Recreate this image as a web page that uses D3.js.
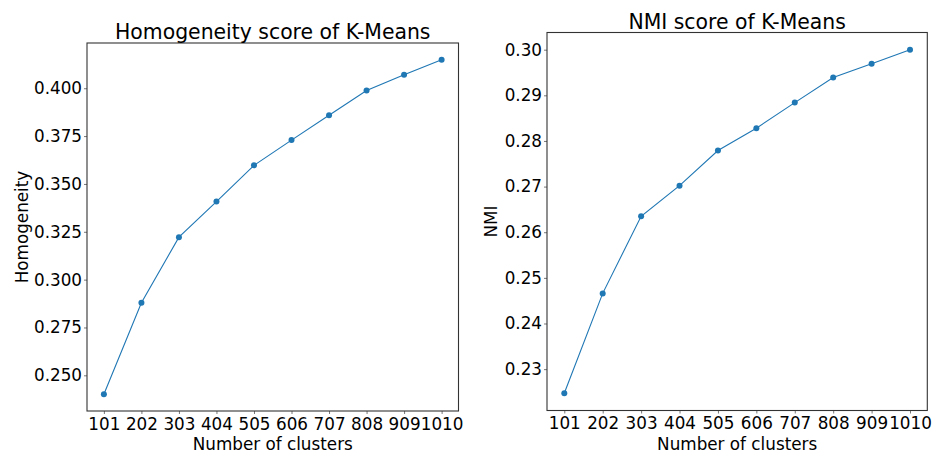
<!DOCTYPE html>
<html>
<head>
<meta charset="utf-8">
<script src="https://cdn.jsdelivr.net/npm/d3@7"></script>
<style>
  html, body { margin: 0; padding: 0; background: #fff; }
  svg { display: block; font-family: "DejaVu Sans", sans-serif; }
</style>
</head>
<body>
<svg id="chart" width="933" height="452"></svg>
<script>
// Cluster counts as labelled on the x axis
const clusterLabels = ["101", "202", "303", "404", "505", "606", "707", "808", "909", "1010"];

// Homogeneity score for each cluster setting
const homogeneityValues = [0.2401, 0.2879, 0.3222, 0.3408, 0.3597, 0.3729, 0.3859, 0.3988, 0.4071, 0.4149];
const homogeneityTicks = [0.250, 0.275, 0.300, 0.325, 0.350, 0.375, 0.400];

// NMI score for each cluster setting
const nmiValues = [0.2247, 0.2466, 0.2635, 0.2702, 0.2779, 0.2828, 0.2884, 0.2939, 0.2969, 0.3000];
const nmiTicks = [0.23, 0.24, 0.25, 0.26, 0.27, 0.28, 0.29, 0.30];

const svg = d3.select("#chart");
const color = "#1f77b4";

function panel(cfg) {
  const { box, values, ticks, fmt, title, ylabel, titleY, ylabelX } = cfg;

  const x = d3.scalePoint()
    .domain(clusterLabels)
    .range([box.left, box.right])
    .padding(0.45);

  const [lo, hi] = d3.extent(values);
  const m = (hi - lo) * 0.05;
  const y = d3.scaleLinear()
    .domain([lo - m, hi + m])
    .range([box.bottom, box.top]);

  const g = svg.append("g");

  // y axis
  const ya = g.append("g")
    .attr("transform", `translate(${box.left},0)`)
    .call(d3.axisLeft(y).tickValues(ticks).tickFormat(d3.format(fmt)).tickSize(3).tickPadding(2));
  ya.select(".domain").remove();
  ya.selectAll("text").attr("font-size", 16.8).attr("fill", "#000").attr("font-family", "DejaVu Sans");
  ya.selectAll("line").attr("stroke", "#555").attr("stroke-width", 0.8);

  // x axis
  const xa = g.append("g")
    .attr("transform", `translate(0,${box.bottom})`)
    .call(d3.axisBottom(x).tickSize(3).tickPadding(4));
  xa.select(".domain").remove();
  xa.selectAll("text").attr("font-size", 16.8).attr("fill", "#000").attr("font-family", "DejaVu Sans");
  xa.selectAll("line").attr("stroke", "#555").attr("stroke-width", 0.8);

  // frame
  g.append("rect")
    .attr("x", box.left).attr("y", box.top)
    .attr("width", box.right - box.left).attr("height", box.bottom - box.top)
    .attr("fill", "none").attr("stroke", "#333").attr("stroke-width", 1.1);

  // series line and markers
  const line = d3.line()
    .x((d, i) => x(clusterLabels[i]))
    .y(d => y(d));
  g.append("path")
    .datum(values)
    .attr("d", line)
    .attr("fill", "none")
    .attr("stroke", color)
    .attr("stroke-width", 1.1);
  g.selectAll("circle.pt")
    .data(values)
    .join("circle")
    .attr("class", "pt")
    .attr("cx", (d, i) => x(clusterLabels[i]))
    .attr("cy", d => y(d))
    .attr("r", 3)
    .attr("fill", color);

  // title
  g.append("text")
    .attr("x", (box.left + box.right) / 2)
    .attr("y", titleY)
    .attr("text-anchor", "middle")
    .attr("font-size", 20.4)
    .text(title);

  // x label
  g.append("text")
    .attr("x", (box.left + box.right) / 2)
    .attr("y", 449.5)
    .attr("text-anchor", "middle")
    .attr("font-size", 16.8)
    .text("Number of clusters");

  // y label
  g.append("text")
    .attr("transform", `translate(${ylabelX},${(box.top + box.bottom) / 2}) rotate(-90)`)
    .attr("text-anchor", "middle")
    .attr("font-size", 16.8)
    .text(ylabel);
}

panel({
  box: { left: 87, right: 458.5, top: 43, bottom: 411 },
  values: homogeneityValues,
  ticks: homogeneityTicks,
  fmt: ".3f",
  title: "Homogeneity score of K-Means",
  ylabel: "Homogeneity",
  titleY: 39.3,
  ylabelX: 27.5
});

panel({
  box: { left: 547, right: 927.3, top: 32.5, bottom: 410.5 },
  values: nmiValues,
  ticks: nmiTicks,
  fmt: ".2f",
  title: "NMI score of K-Means",
  ylabel: "NMI",
  titleY: 29,
  ylabelX: 496.5
});
</script>
</body>
</html>
